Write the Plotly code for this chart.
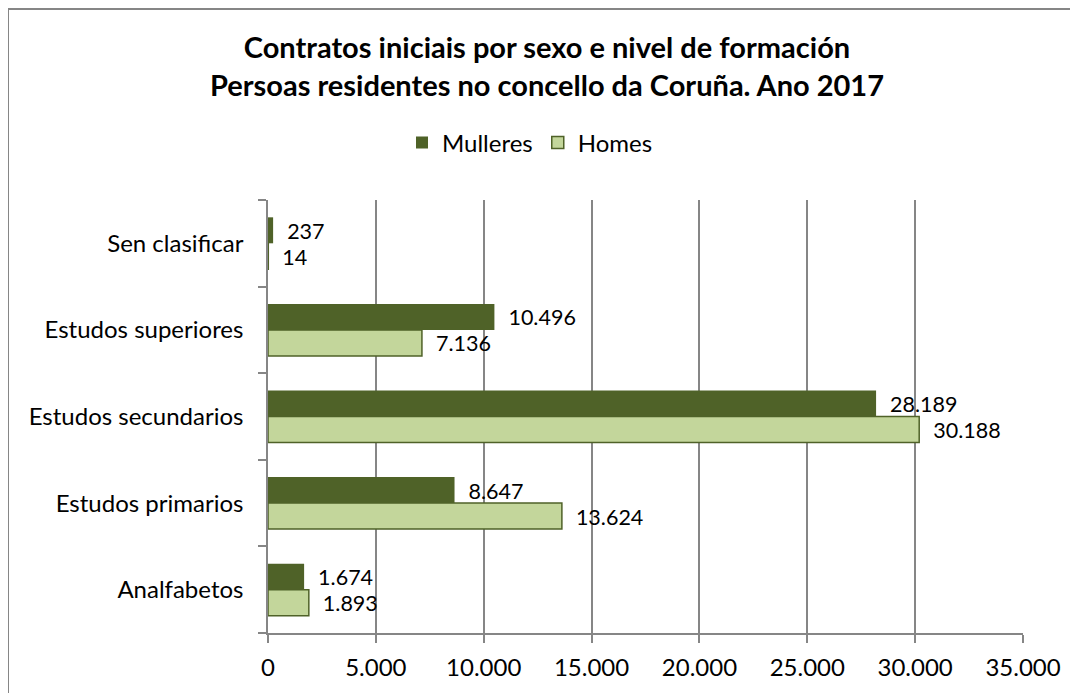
import plotly.graph_objects as go

categories = ["Analfabetos", "Estudos primarios", "Estudos secundarios", "Estudos superiores", "Sen clasificar"]
mulleres = [1674, 8647, 28189, 10496, 237]
homes = [1893, 13624, 30188, 7136, 14]
x_ticks = [0, 5000, 10000, 15000, 20000, 25000, 30000, 35000]

FONT = "Lato"
DARK = "#4F6228"
LIGHT = "#C3D69B"
GRID = "#868686"

# page has an 8px body margin, so figure is sized to fit the window
FW, FH = 1070, 685
OFF = 8

fig = go.Figure()
fig.add_trace(go.Bar(
    y=categories, x=homes, name="Homes", orientation="h",
    marker=dict(color=LIGHT, line=dict(color=DARK, width=1.5)),
    texttemplate="\u00a0\u00a0%{x:,}", textposition="outside",
    textfont=dict(size=24, color="#000000", family=FONT),
    legendrank=2, cliponaxis=False,
))
fig.add_trace(go.Bar(
    y=categories, x=mulleres, name="Mulleres", orientation="h",
    marker=dict(color=DARK, line=dict(color=DARK, width=0)),
    texttemplate="\u00a0\u00a0%{x:,}", textposition="outside",
    textfont=dict(size=24, color="#000000", family=FONT),
    legendrank=1, cliponaxis=False,
))

L = 268 - OFF
T = 200 - OFF
R = FW - (1023 - OFF)
B = FH - (633 - OFF)
W, H = FW - L - R, FH - T - B

fig.update_layout(
    width=FW, height=FH,
    margin=dict(l=L, r=R, t=T, b=B, pad=0),
    paper_bgcolor="white", plot_bgcolor="white",
    separators=",.",
    barmode="group", bargap=0.4, bargroupgap=0,
    font=dict(family=FONT, size=24, color="#000000"),
    title=dict(
        text="<b>Contratos iniciais por sexo e nivel de formación<br>Persoas residentes no concello da Coruña. Ano 2017</b>",
        x=(547 - OFF) / FW, xanchor="center", xref="container",
        y=1 - (58 - OFF) / FH, yanchor="middle", yref="container",
        font=dict(size=29, family=FONT, color="#000000"),
    ),
    legend=dict(
        orientation="h", x=(530 - OFF) / FW, xanchor="center", xref="container",
        y=1 - (143 - OFF) / FH, yanchor="middle", yref="container",
        font=dict(size=24, family=FONT), itemwidth=30, tracegroupgap=0,
    ),
    showlegend=True,
    xaxis=dict(
        range=[0, 35000], tickvals=x_ticks, tickformat=",",
        showgrid=True, gridcolor=GRID, gridwidth=1.5,
        showline=True, linecolor=GRID, linewidth=1.5,
        ticks="outside", ticklen=8, tickcolor=GRID, tickwidth=1.5,
        zeroline=False, tickfont=dict(size=24), fixedrange=True,
        ticklabelstandoff=4,
    ),
    yaxis=dict(
        categoryorder="array", categoryarray=categories,
        showline=True, linecolor=GRID, linewidth=1.5,
        ticks="outside", ticklen=8, tickcolor=GRID, tickwidth=1.5,
        tickson="boundaries", showgrid=False, zeroline=False,
        tickfont=dict(size=24), ticklabelstandoff=18,
    ),
    shapes=[dict(
        type="rect", xref="paper", yref="paper",
        x0=(0 - L) / W, x1=(FW + 20 - L) / W,
        y0=(FH - B - FH - 20) / H, y1=(FH - B - 1) / H,
        line=dict(color=GRID, width=2), fillcolor="rgba(0,0,0,0)", layer="below",
    )],
)

fig.write_html("out.html")
